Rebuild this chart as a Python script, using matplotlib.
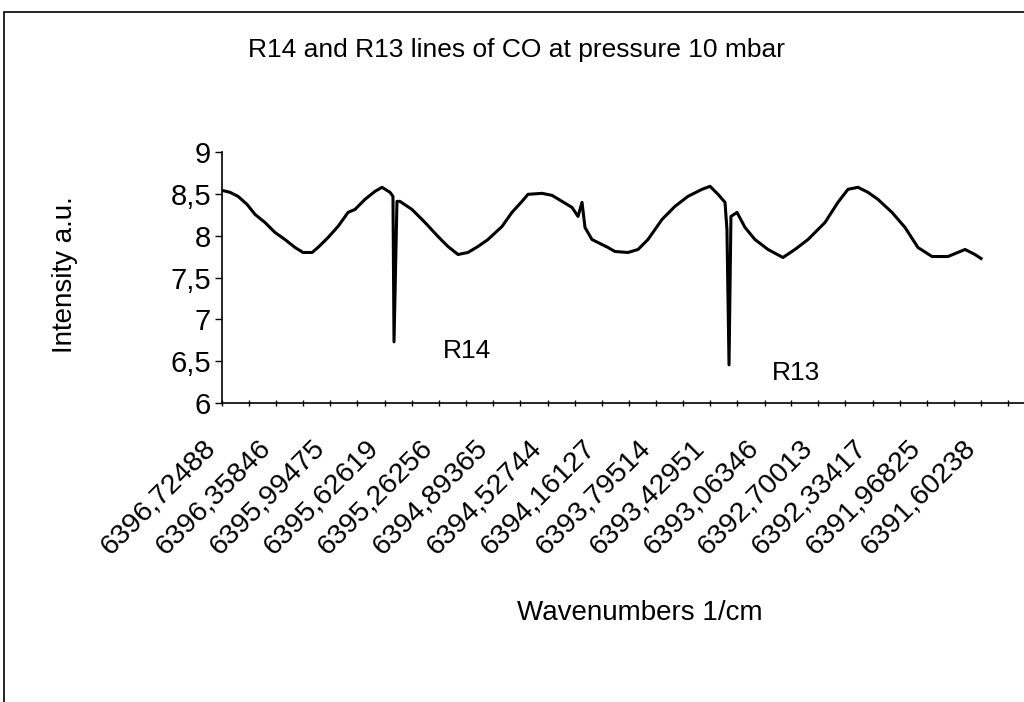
## plot.py
# CO absorption lines R14 / R13, redrawn from a scanned Excel chart
import numpy as np
import matplotlib
matplotlib.use('Agg')
import matplotlib.pyplot as plt
import matplotlib.transforms as mtransforms
from matplotlib.patches import Rectangle

plt.rcParams['font.family'] = ['Liberation Sans', 'DejaVu Sans']

# Wavenumbers [1/cm] of the traced points
wavenumber = [6396.725, 6396.671, 6396.617, 6396.556, 6396.502, 6396.435, 6396.367, 6396.300,
              6396.232, 6396.178, 6396.117, 6396.077, 6396.009, 6395.942, 6395.874, 6395.827,
              6395.760, 6395.692, 6395.645, 6395.591, 6395.571, 6395.564, 6395.544, 6395.524,
              6395.443, 6395.355, 6395.267, 6395.200, 6395.132, 6395.065, 6394.997, 6394.930,
              6394.835, 6394.768, 6394.700, 6394.660, 6394.565, 6394.498, 6394.430, 6394.363,
              6394.322, 6394.295, 6394.275, 6394.228, 6394.120, 6394.073, 6393.985, 6393.917,
              6393.850, 6393.755, 6393.668, 6393.580, 6393.485, 6393.431, 6393.377, 6393.330,
              6393.317, 6393.303, 6393.290, 6393.249, 6393.195, 6393.128, 6393.040, 6392.939,
              6392.858, 6392.770, 6392.655, 6392.568, 6392.500, 6392.433, 6392.365, 6392.298,
              6392.203, 6392.115, 6392.028, 6391.933, 6391.825, 6391.710, 6391.643, 6391.602]

# Intensity [a.u.]
intensity = [8.542, 8.518, 8.470, 8.374, 8.254, 8.158, 8.038, 7.954,
             7.859, 7.799, 7.799, 7.859, 7.978, 8.110, 8.278, 8.314,
             8.434, 8.530, 8.578, 8.518, 8.470, 6.731, 8.410, 8.410,
             8.314, 8.158, 7.990, 7.871, 7.775, 7.799, 7.871, 7.954,
             8.110, 8.278, 8.410, 8.494, 8.506, 8.482, 8.410, 8.338,
             8.230, 8.398, 8.098, 7.954, 7.859, 7.811, 7.799, 7.835,
             7.954, 8.194, 8.350, 8.470, 8.554, 8.590, 8.494, 8.398,
             8.074, 6.456, 8.230, 8.278, 8.098, 7.954, 7.835, 7.739,
             7.835, 7.954, 8.158, 8.398, 8.554, 8.578, 8.518, 8.434,
             8.278, 8.098, 7.859, 7.751, 7.751, 7.835, 7.775, 7.727]

# Category labels shown on the x axis
tick_labels = ['6396,72488', '6396,35846', '6395,99475', '6395,62619', '6395,26256',
               '6394,89365', '6394,52744', '6394,16127', '6393,79514', '6393,42951',
               '6393,06346', '6392,70013', '6392,33417', '6391,96825', '6391,60238']
y_ticks = [6, 6.5, 7, 7.5, 8, 8.5, 9]

# line annotations (name, wavenumber, intensity)
line_names = ['R14', 'R13']
line_pos_x = [6395.070, 6392.850]
line_pos_y = [6.62, 6.36]

tick_values = [float(t.replace(',', '.')) for t in tick_labels]
minor_values = [(a + b) / 2 for a, b in zip(tick_values[:-1], tick_values[1:])]
minor_values.append(tick_values[-1] - (tick_values[-2] - tick_values[-1]) / 2)

W, H = 1024, 702
fig = plt.figure(figsize=(W / 100, H / 100), dpi=100)
fig.patch.set_facecolor('white')

# outer chart border (cut by the scan on right and bottom)
fig.patches.append(Rectangle((4 / W, -0.05), 1.2, 1 - 12 / H + 0.05, transform=fig.transFigure,
                             fill=False, ec='black', lw=1.2))

ax = fig.add_axes([222 / W, 1 - 403 / H, (W - 222) / W, (403 - 152) / H])
ax.plot(wavenumber, intensity, color='black', lw=2.2)

ax.set_xlim(tick_values[0], tick_values[0] - (W - 222) * (tick_values[0] - tick_values[-1]) / 759)
ax.set_ylim(6, 9)

ax.set_xticks(tick_values)
ax.set_xticklabels(tick_labels, rotation=45, ha='right', va='center', rotation_mode='anchor',
                   fontsize=20.5)
ax.set_xticks(minor_values, minor=True)
ax.tick_params(axis='x', which='both', direction='inout', length=5, width=1, pad=27)
shift = mtransforms.ScaledTranslation(-0.10, 0, fig.dpi_scale_trans)
for lab in ax.get_xticklabels():
    lab.set_transform(lab.get_transform() + shift)

ax.set_yticks(y_ticks)
ax.set_yticklabels([('%g' % v).replace('.', ',') for v in y_ticks], fontsize=21)
ax.tick_params(axis='y', direction='out', length=5, width=1, pad=3)

for side in ['top', 'right']:
    ax.spines[side].set_visible(False)
for side in ['left', 'bottom']:
    ax.spines[side].set_linewidth(1.2)

for name, lx, ly in zip(line_names, line_pos_x, line_pos_y):
    ax.text(lx, ly, name, fontsize=19, ha='center', va='center')

fig.text(516 / W, 1 - 50 / H, 'R14 and R13 lines of CO at pressure 10 mbar',
         fontsize=19, ha='center', va='center')
fig.text(65 / W, 1 - 275 / H, 'Intensity a.u.', fontsize=20, rotation=90,
         ha='center', va='center')
fig.text(640 / W, 1 - 613 / H, 'Wavenumbers 1/cm', fontsize=20, ha='center', va='center')

fig.savefig('out.png', dpi=100)
